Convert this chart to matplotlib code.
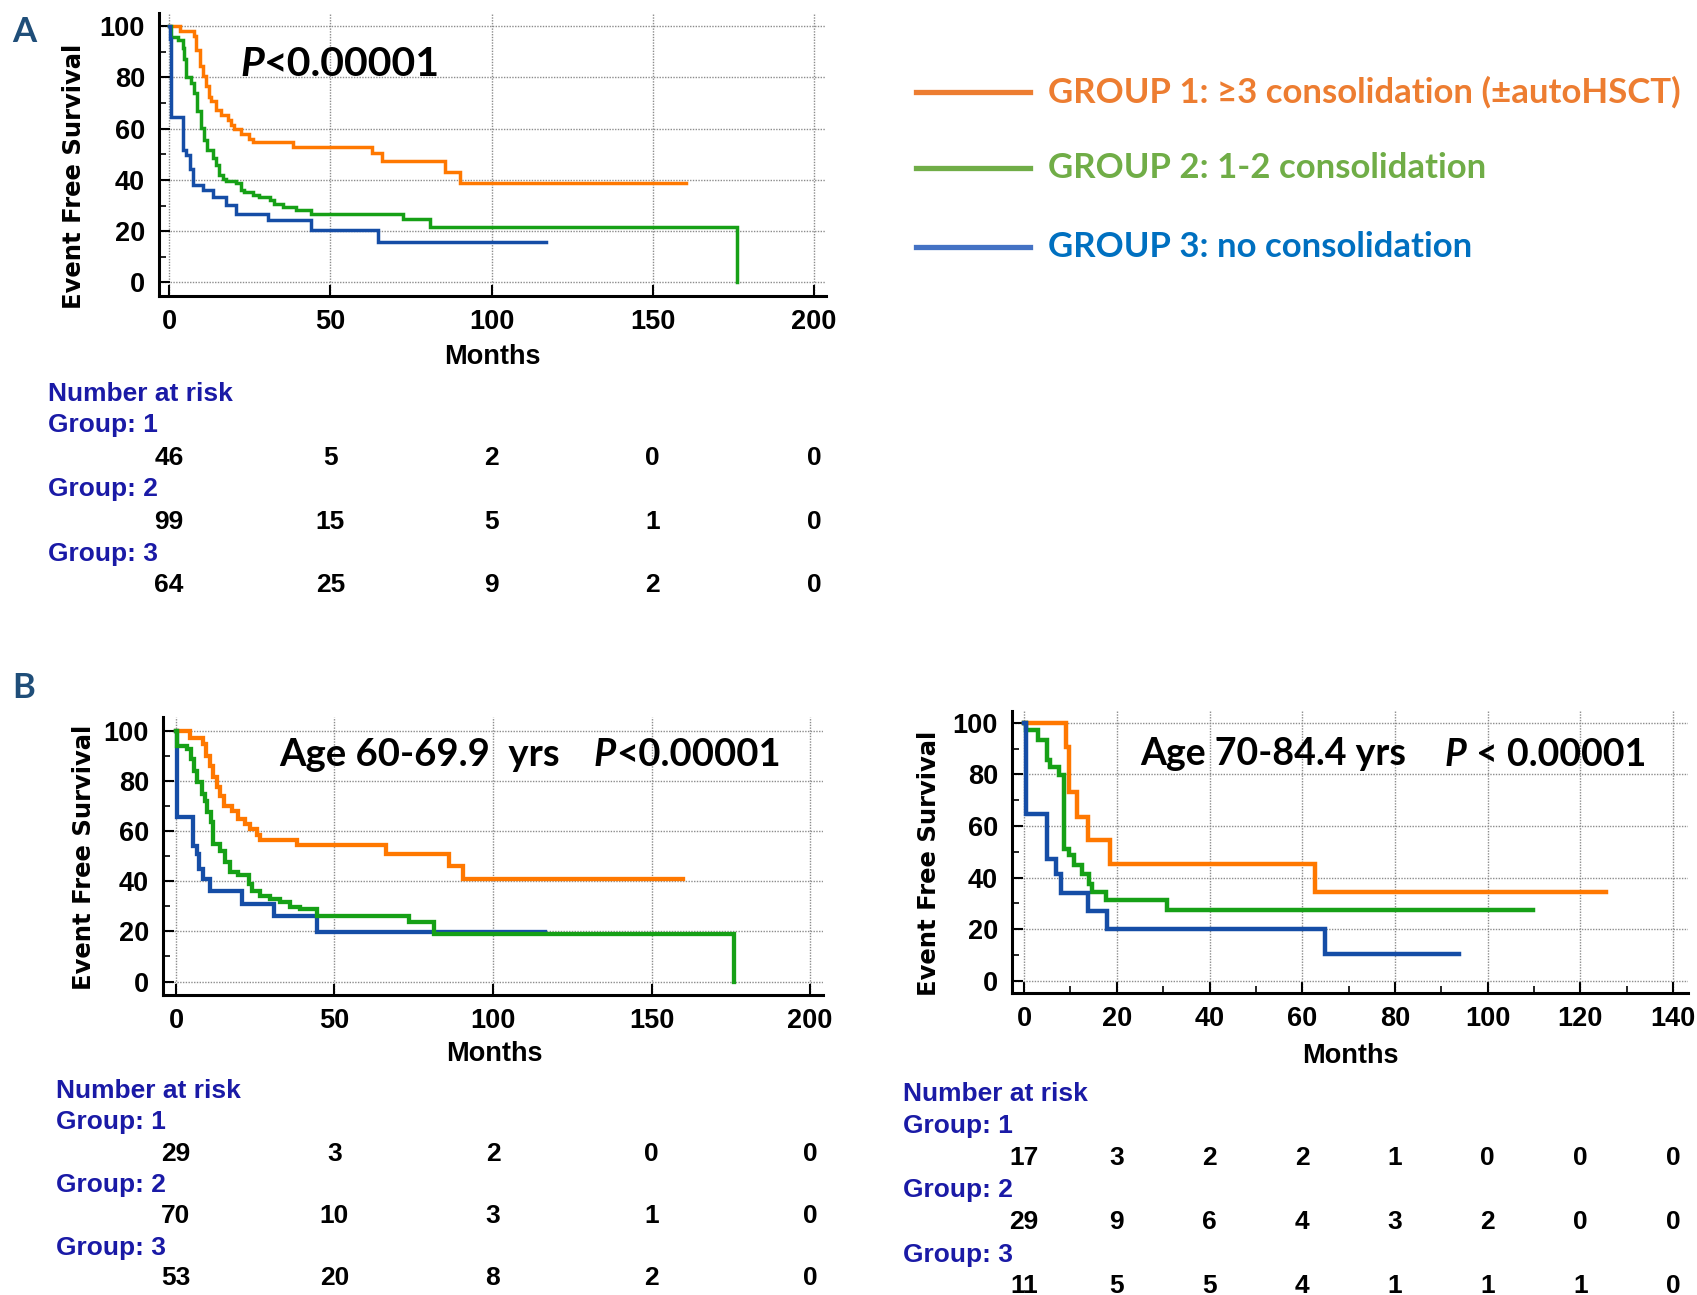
import matplotlib
matplotlib.use("Agg")
import matplotlib.pyplot as plt
from matplotlib.lines import Line2D
from matplotlib import transforms

# ---------------------------------------------------------------- data
# Kaplan-Meier steps: event times (months) and survival (%) after each step
A_g1_t = [3.3, 7.8, 8.5, 9.6, 10.4, 11.4, 12.3, 13.0, 14.5, 16.1, 18.2, 19.2, 20.2,
          22.3, 24.9, 26.0, 38.4, 62.8, 65.9, 85.7, 90.3]
A_g1_s = [98.0, 96.0, 90.8, 84.3, 80.4, 76.5, 72.5, 70.6, 67.3, 65.4, 63.4, 61.4, 60.0,
          58.0, 56.0, 54.9, 52.9, 50.3, 47.5, 43.1, 38.6]
A_g1_end = 160.4

A_g2_t = [0.5, 2.9, 4.2, 4.8, 5.2, 6.7, 7.8, 8.8, 9.9, 10.9, 11.9, 13.5, 14.5, 15.4, 16.6,
          17.7, 20.8, 22.3, 23.4, 26.0, 28.0, 31.2, 32.7, 35.3, 39.5, 44.1, 72.7, 81.0, 176.0]
A_g2_s = [95.7, 94.4, 91.5, 87.0, 80.0, 77.8, 73.9, 66.7, 60.1, 55.6, 51.6, 48.4, 45.8, 41.8,
          40.5, 39.6, 38.6, 36.0, 35.3, 34.0, 33.3, 32.0, 30.7, 29.4, 28.4, 26.5, 24.8, 21.8, 0.0]
A_g2_end = 176.0

A_g3_t = [0.3, 0.6, 4.4, 5.2, 6.4, 7.3, 10.4, 13.5, 17.7, 20.8, 30.6, 44.1, 64.9]
A_g3_s = [95.0, 64.7, 51.6, 49.7, 44.4, 37.9, 35.9, 33.3, 30.1, 26.8, 24.2, 20.3, 15.7]
A_g3_end = 116.8

BL_g1_t = [4.4, 8.6, 9.5, 10.8, 11.8, 12.9, 13.9, 15.2, 17.6, 19.7, 21.8, 23.4, 25.5, 26.4,
           38.2, 66.1, 86.2, 90.4]
BL_g1_s = [97.0, 94.5, 90.0, 86.0, 81.4, 77.4, 74.0, 70.0, 68.0, 64.8, 62.8, 60.8, 58.4, 56.5,
           54.4, 50.8, 46.1, 40.8]
BL_g1_end = 160.0

BL_g2_t = [0.3, 3.4, 4.6, 5.7, 6.5, 8.1, 9.2, 9.9, 11.0, 11.8, 13.9, 15.5, 17.1, 19.7, 22.9,
           23.9, 26.6, 29.7, 32.9, 36.1, 39.2, 44.5, 73.5, 81.4, 176.0]
BL_g2_s = [94.0, 92.7, 88.7, 84.0, 79.4, 74.7, 72.0, 67.4, 63.4, 54.7, 52.1, 47.5, 43.5, 42.4,
           38.8, 36.2, 34.2, 32.8, 31.5, 29.9, 28.9, 26.2, 23.6, 18.9, 0.0]
BL_g2_end = 176.0

BL_g3_t = [0.3, 5.5, 6.5, 7.4, 8.6, 10.8, 20.8, 30.8, 44.5]
BL_g3_s = [65.4, 54.1, 50.8, 44.8, 40.8, 36.2, 30.9, 26.2, 19.6]
BL_g3_end = 116.5

BR_g1_t = [9.0, 9.7, 11.5, 13.8, 18.6, 62.7]
BR_g1_s = [90.7, 73.2, 63.5, 54.4, 45.3, 34.3]
BR_g1_end = 125.6

BR_g2_t = [0.4, 2.9, 5.0, 5.7, 7.5, 8.6, 9.7, 10.8, 12.5, 14.0, 14.7, 17.6, 30.8]
BR_g2_s = [97.2, 93.3, 85.5, 82.9, 79.7, 51.2, 48.6, 44.7, 41.5, 37.6, 34.3, 31.1, 27.5]
BR_g2_end = 109.7

BR_g3_t = [0.4, 5.0, 6.8, 7.9, 13.8, 17.8, 64.9]
BR_g3_s = [64.5, 47.3, 41.5, 33.9, 27.2, 20.0, 10.4]
BR_g3_end = 93.8

# number-at-risk tables
A_risk_times = [0, 50, 100, 150, 200]
A_risk = [[46, 5, 2, 0, 0], [99, 15, 5, 1, 0], [64, 25, 9, 2, 0]]
BL_risk_times = [0, 50, 100, 150, 200]
BL_risk = [[29, 3, 2, 0, 0], [70, 10, 3, 1, 0], [53, 20, 8, 2, 0]]
BR_risk_times = [0, 20, 40, 60, 80, 100, 120, 140]
BR_risk = [[17, 3, 2, 2, 1, 0, 0, 0], [29, 9, 6, 4, 3, 2, 0, 0], [11, 5, 5, 4, 1, 1, 1, 0]]

group_labels = ["GROUP 1: \u22653 consolidation (\u00b1autoHSCT)",
                "GROUP 2: 1-2 consolidation",
                "GROUP 3: no consolidation"]

# ---------------------------------------------------------------- style
C_ORANGE, C_GREEN, C_BLUE = "#FF7800", "#16A016", "#154DA6"
LEG_LINE = ["#ED7D31", "#70AD47", "#4472C4"]
LEG_TEXT = ["#ED7D31", "#70AD47", "#0070C0"]
NAVY = "#1A1AA6"
PANEL = "#1F4E79"
ARIAL = ["Liberation Sans", "DejaVu Sans"]
WIDE = ["DejaVu Sans"]
CALIBRI = ["Lato", "DejaVu Sans"]

W, H = 1697, 1295
fig = plt.figure(figsize=(W / 100, H / 100), dpi=100)


def fx(p):
    return p / W


def fy(p):
    return 1 - p / H


def axes_px(left, top, right, bottom):
    return fig.add_axes([fx(left), fy(bottom), (right - left) / W, (bottom - top) / H])


def km(ax, times, surv, end, color, lw):
    x = [0] + list(times) + [end]
    y = [100] + list(surv) + [surv[-1]]
    ax.step(x, y, where="post", color=color, lw=lw, solid_joinstyle="miter", zorder=3)


def style(ax, xlim, ylim, xmajor, xminor=None):
    ax.set_xlim(*xlim)
    ax.set_ylim(*ylim)
    ax.set_xticks(xmajor)
    ax.set_yticks(range(0, 101, 20))
    ax.set_yticks(range(10, 100, 20), minor=True)
    if xminor is not None:
        ax.set_xticks(xminor, minor=True)
    for s in ("top", "right"):
        ax.spines[s].set_visible(False)
    for s in ("left", "bottom"):
        ax.spines[s].set_linewidth(2.2)
    ax.set_axisbelow(True)
    ax.grid(True, which="major", color="#8c8c8c", linestyle=(0, (1, 1)), linewidth=1.0)
    ax.tick_params(which="major", direction="in", length=8, width=1.5, labelsize=19.5, pad=10)
    ax.tick_params(which="minor", direction="in", length=5, width=1.2)
    for lab in ax.get_xticklabels() + ax.get_yticklabels():
        lab.set_family(ARIAL)
        lab.set_fontweight("bold")


def p_text(x, y, size, sep=""):
    t1 = fig.text(fx(x), fy(y), "P", fontsize=size, fontweight="bold", style="italic",
                  family=CALIBRI, va="center", ha="left")
    plt.annotate(sep + "<" + sep + "0.00001", xy=(1, 0), xycoords=t1, va="bottom", ha="left",
                 fontsize=size, fontweight="bold", family=CALIBRI, annotation_clip=False)


def risk_table(ax, left_px, ys, times, rows):
    tr = transforms.blended_transform_factory(ax.transData, fig.transFigure)
    fig.text(fx(left_px), fy(ys[0]), "Number at risk", color=NAVY, fontsize=19,
             fontweight="bold", family=ARIAL, va="center", ha="left")
    for g, row in enumerate(rows):
        fig.text(fx(left_px), fy(ys[1 + 2 * g]), "Group: %d" % (g + 1), color=NAVY,
                 fontsize=19, fontweight="bold", family=ARIAL, va="center", ha="left")
        for t, n in zip(times, row):
            ax.text(t, fy(ys[2 + 2 * g]), str(n), transform=tr, fontsize=19,
                    fontweight="bold", family=ARIAL, va="center", ha="center", clip_on=False)


def ylabel(xc, yc):
    fig.text(fx(xc), fy(yc), "Event Free Survival", rotation=90, fontsize=17.5,
             fontweight="bold", family=WIDE, va="center", ha="center")


def xlabel(xc, yc):
    fig.text(fx(xc), fy(yc), "Months", fontsize=19.5, fontweight="bold", family=ARIAL,
             va="center", ha="center")


# ---------------------------------------------------------------- panel A
axA = axes_px(159, 13, 826, 295.5)
km(axA, A_g1_t, A_g1_s, A_g1_end, C_ORANGE, 2.5)
km(axA, A_g2_t, A_g2_s, A_g2_end, C_GREEN, 2.5)
km(axA, A_g3_t, A_g3_s, A_g3_end, C_BLUE, 2.5)
style(axA, (-3.1, 203.7), (-5.1, 105.1), [0, 50, 100, 150, 200])
ylabel(74, 176)
xlabel(492, 357)
p_text(240, 64, 29.5)
risk_table(axA, 48, [394, 425, 458, 489, 522, 554, 585], A_risk_times, A_risk)

fig.text(fx(24), fy(32), "A", fontsize=25, fontweight="bold", family=CALIBRI, color=PANEL,
         va="center", ha="center")
fig.text(fx(24), fy(688), "B", fontsize=25, fontweight="bold", family=CALIBRI, color=PANEL,
         va="center", ha="center")

# legend
for i, (lab, y) in enumerate(zip(group_labels, [92, 168, 247])):
    fig.add_artist(Line2D([fx(916), fx(1030)], [fy(y), fy(y)], color=LEG_LINE[i], lw=3.8,
                          transform=fig.transFigure))
    fig.text(fx(1048), fy(y), lab, color=LEG_TEXT[i], fontsize=25, fontweight="bold",
             family=CALIBRI, va="center", ha="left")

# ---------------------------------------------------------------- panel B, age 60-69.9
axBL = axes_px(163, 716.5, 823, 994.6)
km(axBL, BL_g1_t, BL_g1_s, BL_g1_end, C_ORANGE, 3.1)
km(axBL, BL_g3_t, BL_g3_s, BL_g3_end, C_BLUE, 3.1)
km(axBL, BL_g2_t, BL_g2_s, BL_g2_end, C_GREEN, 3.1)
style(axBL, (-4.1, 204.1), (-5.2, 105.6), [0, 50, 100, 150, 200])
ylabel(84, 857)
xlabel(494, 1054)
fig.text(fx(279), fy(755), "Age 60-69.9  yrs", fontsize=27.5, fontweight="bold",
         family=CALIBRI, va="center", ha="left")
p_text(594, 755, 27.5)
risk_table(axBL, 56, [1091, 1122, 1154, 1185, 1216, 1248, 1278], BL_risk_times, BL_risk)

# ---------------------------------------------------------------- panel B, age 70-84.4
axBR = axes_px(1012, 711, 1688, 992.5)
km(axBR, BR_g1_t, BR_g1_s, BR_g1_end, C_ORANGE, 3.2)
km(axBR, BR_g2_t, BR_g2_s, BR_g2_end, C_GREEN, 3.2)
km(axBR, BR_g3_t, BR_g3_s, BR_g3_end, C_BLUE, 3.2)
style(axBR, (-2.6, 143.2), (-4.6, 104.6), list(range(0, 141, 20)), list(range(10, 140, 20)))
ylabel(929, 863)
xlabel(1350, 1056)
fig.text(fx(1140), fy(754), "Age 70-84.4 yrs", fontsize=27, fontweight="bold",
         family=CALIBRI, va="center", ha="left")
p_text(1445, 754, 27, sep=" ")
risk_table(axBR, 903, [1094, 1126, 1158, 1190, 1222, 1255, 1286], BR_risk_times, BR_risk)

fig.savefig("out.png", dpi=100)
